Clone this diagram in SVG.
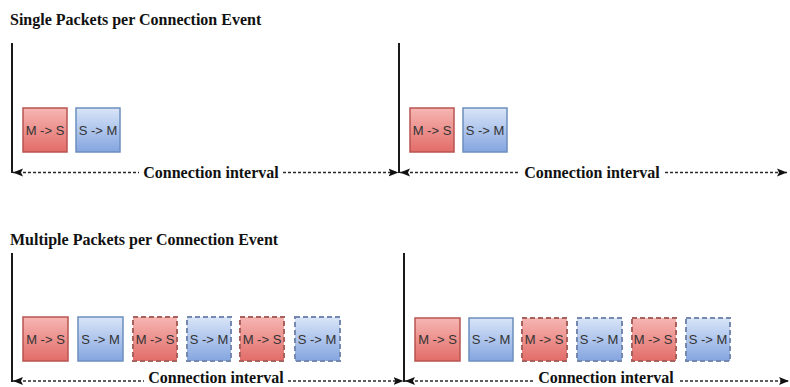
<svg xmlns="http://www.w3.org/2000/svg" width="790" height="387" viewBox="0 0 790 387">
  <style>
    .title { font-family: "Liberation Serif", serif; font-weight: bold; font-size: 16px; fill: #111; }
    .interval { font-family: "Liberation Serif", serif; font-weight: bold; font-size: 16px; fill: #111; text-anchor: middle; }
    .pkt-label { font-family: "Liberation Sans", Arial, sans-serif; font-size: 13px; fill: #333; text-anchor: middle; }
    .timeline { stroke: #1a1a1a; stroke-width: 2; fill: none; }
    .span { stroke: #2a2a2a; stroke-width: 1.7; stroke-dasharray: 3 2; fill: none; }
    .ms { fill: url(#redFill); stroke: #b85450; stroke-width: 1.5; }
    .sm { fill: url(#blueFill); stroke: #6c8ebf; stroke-width: 1.5; }
    .opt { stroke-dasharray: 5 3; stroke-width: 2; }
    .opt.ms { stroke: #a8625e; }
    .opt.sm { stroke: #7488b0; }
    .gap { fill: #fff; }
  </style>
  <defs>
    <linearGradient id="redFill" x1="0" y1="0" x2="0" y2="1">
      <stop offset="0" stop-color="#f6b6b3"/>
      <stop offset="1" stop-color="#e26c68"/>
    </linearGradient>
    <linearGradient id="blueFill" x1="0" y1="0" x2="0" y2="1">
      <stop offset="0" stop-color="#d9e5f8"/>
      <stop offset="1" stop-color="#84a5e0"/>
    </linearGradient>
    <marker id="head" viewBox="0 0 10 10" refX="10" refY="5" markerWidth="10" markerHeight="10" markerUnits="userSpaceOnUse" orient="auto-start-reverse">
      <path d="M0,1 L10,5 L0,9 L2,5 Z" fill="#111"/>
    </marker>
  </defs>

  <!-- Section headings -->
  <text class="title" x="10" y="25">Single Packets per Connection Event</text>
  <text class="title" x="10" y="245">Multiple Packets per Connection Event</text>

  <!-- Connectors: event markers and connection-interval spans -->
  <g id="connectors">
    <line class="timeline" x1="12" y1="43" x2="12" y2="173"/>
    <line class="timeline" x1="399" y1="43" x2="399" y2="173"/>
    <line class="span" x1="13" y1="172.5" x2="398.5" y2="172.5" marker-start="url(#head)" marker-end="url(#head)"/>
    <line class="span" x1="400" y1="172.5" x2="787" y2="172.5" marker-start="url(#head)" marker-end="url(#head)"/>

    <line class="timeline" x1="12" y1="253" x2="12" y2="382"/>
    <line class="timeline" x1="404" y1="253" x2="404" y2="382"/>
    <line class="span" x1="13" y1="381" x2="403.5" y2="381" marker-start="url(#head)" marker-end="url(#head)"/>
    <line class="span" x1="405" y1="381" x2="789" y2="381" marker-start="url(#head)" marker-end="url(#head)"/>
  </g>

  <!-- Interval labels -->
  <g id="interval-labels">
    <rect class="gap" x="139" y="163" width="144" height="18"/>
    <text class="interval" x="211" y="178">Connection interval</text>
    <rect class="gap" x="520" y="163" width="144" height="18"/>
    <text class="interval" x="592" y="178">Connection interval</text>
    <rect class="gap" x="144" y="370" width="144" height="17"/>
    <text class="interval" x="216" y="383">Connection interval</text>
    <rect class="gap" x="534" y="370" width="144" height="17"/>
    <text class="interval" x="606" y="383">Connection interval</text>
  </g>

  <!-- Single packets: first event -->
  <g id="single-1-ms"><rect class="ms" x="23" y="108" width="44" height="44"/><text class="pkt-label" x="45" y="135">M -&gt; S</text></g>
  <g id="single-1-sm"><rect class="sm" x="76" y="108" width="44" height="44"/><text class="pkt-label" x="98" y="135">S -&gt; M</text></g>
  <!-- Single packets: second event -->
  <g id="single-2-ms"><rect class="ms" x="410" y="108" width="44" height="44"/><text class="pkt-label" x="432" y="135">M -&gt; S</text></g>
  <g id="single-2-sm"><rect class="sm" x="463" y="108" width="44" height="44"/><text class="pkt-label" x="485" y="135">S -&gt; M</text></g>

  <!-- Multiple packets: first event -->
  <g id="multi-1-ms1"><rect class="ms" x="23" y="317" width="45" height="44"/><text class="pkt-label" x="45.5" y="344">M -&gt; S</text></g>
  <g id="multi-1-sm1"><rect class="sm" x="78" y="317" width="45" height="44"/><text class="pkt-label" x="100.5" y="344">S -&gt; M</text></g>
  <g id="multi-1-ms2"><rect class="ms opt" x="133" y="317" width="44" height="44"/><text class="pkt-label" x="155" y="344">M -&gt; S</text></g>
  <g id="multi-1-sm2"><rect class="sm opt" x="187" y="317" width="44" height="44"/><text class="pkt-label" x="209" y="344">S -&gt; M</text></g>
  <g id="multi-1-ms3"><rect class="ms opt" x="240" y="317" width="44" height="44"/><text class="pkt-label" x="262" y="344">M -&gt; S</text></g>
  <g id="multi-1-sm3"><rect class="sm opt" x="295" y="317" width="45" height="44"/><text class="pkt-label" x="317" y="344">S -&gt; M</text></g>

  <!-- Multiple packets: second event -->
  <g id="multi-2-ms1"><rect class="ms" x="415" y="318" width="45" height="43"/><text class="pkt-label" x="437.5" y="344">M -&gt; S</text></g>
  <g id="multi-2-sm1"><rect class="sm" x="469" y="318" width="44" height="43"/><text class="pkt-label" x="491" y="344">S -&gt; M</text></g>
  <g id="multi-2-ms2"><rect class="ms opt" x="522" y="318" width="45" height="43"/><text class="pkt-label" x="544" y="344">M -&gt; S</text></g>
  <g id="multi-2-sm2"><rect class="sm opt" x="577" y="318" width="45" height="43"/><text class="pkt-label" x="599" y="344">S -&gt; M</text></g>
  <g id="multi-2-ms3"><rect class="ms opt" x="632" y="318" width="44" height="43"/><text class="pkt-label" x="653" y="344">M -&gt; S</text></g>
  <g id="multi-2-sm3"><rect class="sm opt" x="686" y="318" width="44" height="43"/><text class="pkt-label" x="708" y="344">S -&gt; M</text></g>
</svg>
